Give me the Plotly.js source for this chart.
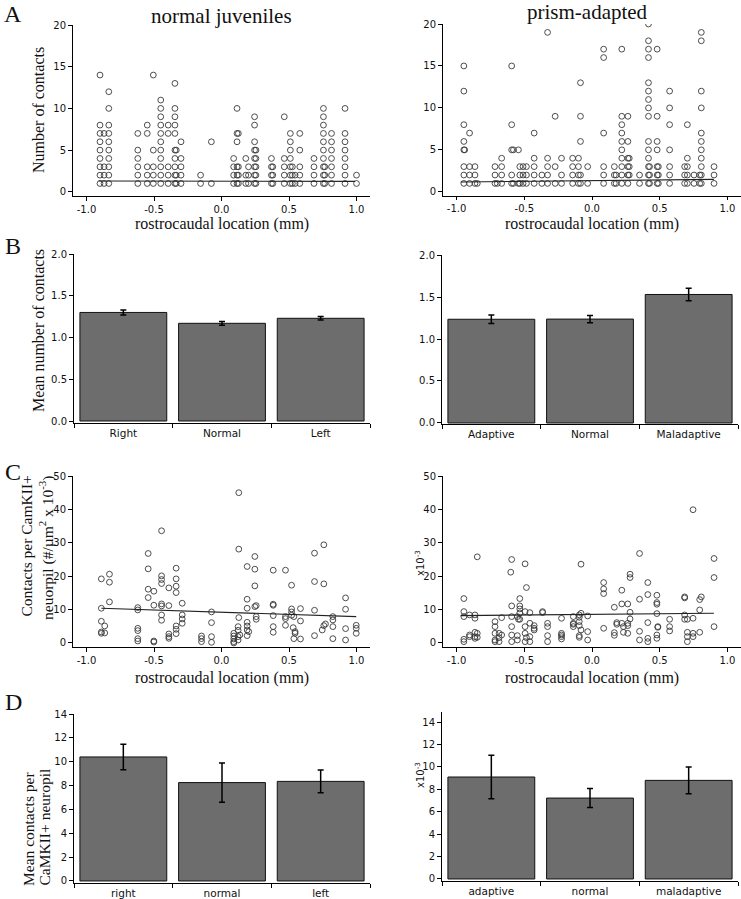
<!DOCTYPE html>
<html><head><meta charset="utf-8">
<script src="https://cdn.plot.ly/plotly-3.0.1.min.js"></script>
<style>html,body{margin:0;padding:0;background:#fff}#chart{width:741px;height:899px}</style>
</head><body><div id="chart"></div>
<script>
// ---------- DATA ----------
// Panel A (number of contacts vs rostrocaudal location): [x, [y values]]
const aLeftCols = [
 [-0.90,[14,8,7,6,5,4,3,2,1]],[-0.87,[7,3,2,1]],[-0.835,[12,10,8,7,6,5,4,3,2,1]],
 [-0.62,[7,5,4,3,2,1]],[-0.55,[8,7,3,2,1]],[-0.505,[14,5,3,2,1]],
 [-0.45,[11,10,9,8,7,6,5,4,3,2,1]],[-0.395,[8,7,3,2,1]],[-0.345,[13,10,9,8,7,5,4,3,2,1]],
 [-0.335,[5,2,1]],[-0.30,[6,4,3,2,1]],[-0.155,[2,1]],[-0.075,[6,1]],
 [0.09,[4,3,2,1]],[0.115,[10,7,6,3,2,1]],[0.125,[7,3,2,1]],[0.18,[4,2,1]],[0.20,[3,2,1]],
 [0.245,[9,8,6,5,4,3,2,1]],[0.255,[5,4,3,2,1]],[0.37,[4,3,2,1]],[0.38,[3,2,1]],
 [0.465,[9,4,3,2,1]],[0.51,[7,6,5,4,3,2,1]],[0.525,[3,2,1]],[0.545,[2,1]],
 [0.58,[7,5,3,2,1]],[0.685,[4,3,2,1]],[0.755,[10,9,8,7,6,5,4,3,2,1]],[0.765,[3,2,1]],
 [0.815,[7,6,5,4,3,2,1]],[0.915,[10,7,6,5,4,3,2,1]],[1.0,[2,1]]
];
const aLeftFitX = [-0.91, 0.99];
const aLeftFitY = [1.30, 1.25];

const aRightCols = [
 [-0.946,[15,12,8,6,5,3,2,1]],[-0.94,[5]],[-0.904,[7,3,2,1]],[-0.864,[3,2,1]],[-0.847,[1]],
 [-0.716,[3,2,1]],[-0.699,[1]],[-0.667,[4,3,2,1]],[-0.593,[15,8,5,2,1]],[-0.58,[5,1]],
 [-0.543,[5,1]],[-0.533,[3,2,1]],[-0.509,[3,2,1]],[-0.484,[3,2,1]],[-0.427,[7,4,3,2,1]],
 [-0.370,[2,1]],[-0.328,[19,4,3,2,1]],[-0.272,[9,3,1]],[-0.225,[4,2,1]],[-0.143,[4,3,2,1]],
 [-0.100,[4,3,2,1]],[-0.085,[13,9,6,2,1]],[-0.032,[3,1]],[0.086,[17,16,7,3,2,1]],
 [0.165,[3,2,1]],[0.178,[2,1]],[0.220,[17,9,8,7,6,5,4,3,2,1]],[0.265,[9,6,4,3,2,1]],
 [0.275,[4,3,2]],[0.351,[2,1]],[0.417,[20,18,17,16,13,12,11,10,9,6,5,4,3,2,1]],
 [0.425,[3,2,1]],[0.481,[17,9,6,5,3,2,1]],[0.490,[3,2,1]],[0.573,[12,10,8,5,3,2,1]],
 [0.684,[3,2,1]],[0.704,[8,4,3,2,1]],[0.753,[2,1]],[0.795,[2,1]],
 [0.807,[19,18,12,10,7,6,5,4,3,2,1]],[0.901,[3,2,1]]
];
const aRightFitX = [-0.97, 0.90];
const aRightFitY = [1.17, 1.48];

// Panel B (mean number of contacts)
const bLeftCats = ["Right","Normal","Left"];
const bLeftMean = [1.30, 1.17, 1.23];
const bLeftErr  = [0.03, 0.022, 0.02];
const bRightCats = ["Adaptive","Normal","Maladaptive"];
const bRightMean = [1.235, 1.237, 1.53];
const bRightErr  = [0.05, 0.044, 0.074];

// Panel C (contacts per CamKII+ neuropil vs location)
const cLeftCols = [
 [-0.89,[19.2,10.4,6.5,3.3,2.9]],[-0.865,[5.1,3.0]],[-0.83,[20.6,18.2,12.3]],
 [-0.62,[10.6,9.9,4.4,3.7,1.3,0.6]],[-0.543,[26.8,22.2,16.1,13.6]],[-0.501,[15.5,11.3,0.6,0.3]],
 [-0.444,[33.6,20.1,19.0,17.8,11.7,11.1,8.4,6.8]],[-0.39,[16.5,11.2,2.7,1.9,1.4]],
 [-0.336,[22.4,19.2,17.0,15.1,5.1,4.1,2.8]],[-0.291,[11.9,8.4,7.2,5.9]],
 [-0.148,[2.1,1.3,0.4]],[-0.074,[9.3,6.1,1.9,0.2]],[0.091,[2.9,2.1,1.2,0.4,0.0]],
 [0.123,[4.9,3.8,1.9,0.9]],[0.128,[45.0,28.1,7.6]],[0.136,[2.4]],
 [0.19,[22.9,13.1,10.4,6.2,5.1,3.9,2.2]],[0.202,[3.4]],[0.247,[25.9,22.1,17.1,10.9]],
 [0.257,[11.2,7.9,7.1]],[0.383,[21.8,11.6,11.3,8.2,4.9,3.2]],[0.474,[21.8,7.9,7.3,5.3]],
 [0.519,[17.3,10.2,9.3,8.3]],[0.536,[7.9,1.3]],[0.531,[4.6]],[0.545,[3.4,2.9]],
 [0.585,[10.3,6.6,1.2]],[0.689,[26.9,18.4,9.8,2.2]],[0.758,[29.4,17.7,5.2]],[0.77,[5.7]],
 [0.746,[3.9]],[0.825,[7.9,6.9,4.9,1.3]],[0.919,[13.5,10.1,4.3,0.9]],[0.998,[5.3,4.4,2.9]]
];
const cLeftFitX = [-0.89, 0.998];
const cLeftFitY = [10.4, 7.9];

const cRightCols = [
 [-0.946,[13.3,9.4,7.9,1.1,0.4]],[-0.904,[8.4,2.4,1.9]],[-0.864,[8.4,7.4,3.2,1.9,1.4]],
 [-0.847,[25.8,2.9,1.7]],[-0.716,[6.4,4.9,2.9,0.9,0.4]],[-0.686,[2.9,1.6,0.4]],[-0.667,[7.6,2.4]],
 [-0.593,[25.0,11.1,7.9,4.9,2.4,0.4]],[-0.60,[21.2]],[-0.551,[7.9,2.2,0.9]],[-0.543,[7.1]],
 [-0.533,[13.3,11.1,10.2,9.0,7.1]],[-0.494,[23.7,9.4,4.9,2.9,0.4]],[-0.484,[16.6,1.6]],
 [-0.459,[9.1,5.9,1.9,0.4]],[-0.427,[5.2,4.4,3.9]],[-0.365,[9.4,9.1]],[-0.328,[5.9,4.9,2.2,0.4]],
 [-0.225,[7.4,2.9,2.4,1.9,1.2]],[-0.138,[7.9,5.9,5.6,4.9]],[-0.094,[8.4,7.7,6.4,5.2,2.2,1.7]],
 [-0.081,[23.6,8.9,3.9]],[-0.032,[8.1,3.4,0.9]],[0.086,[18.1,16.2,14.8,4.4]],
 [0.165,[10.7,3.1,2.3]],[0.183,[6.1,5.6]],[0.22,[15.8,11.7,5.9]],[0.232,[4.9,3.2]],
 [0.264,[11.7,5.9,5.2,2.9]],[0.281,[20.6,19.6,9.2,7.2]],[0.351,[26.8,13.1,3.5,0.9]],
 [0.412,[18.1,14.5,6.1,1.4,0.4]],[0.479,[14.3,12.1,11.6,8.8,2.4,1.4]],[0.486,[4.9,4.7]],
 [0.573,[7.1,4.9,3.6]],[0.684,[13.8,13.5,8.4,7.1]],[0.704,[7.1,3.2,1.9,0.4]],
 [0.746,[39.9,7.4,2.9,1.9]],[0.795,[13.0,9.9,3.2]],[0.807,[13.8]],[0.901,[25.3,19.6,4.9]]
];
const cRightFitX = [-0.97, 0.90];
const cRightFitY = [8.2, 8.9];

// Panel D (mean contacts per CaMKII+ neuropil)
const dLeftCats = ["right","normal","left"];
const dLeftMean = [10.4, 8.25, 8.35];
const dLeftErr  = [1.07, 1.65, 0.96];
const dRightCats = ["adaptive","normal","maladaptive"];
const dRightMean = [9.1, 7.22, 8.8];
const dRightErr  = [1.95, 0.85, 1.2];

// ---------- BUILD ----------
function flat(cols){const x=[],y=[];cols.forEach(c=>c[1].forEach(v=>{x.push(c[0]);y.push(v);}));return {x,y};}
const W=741,H=899;
const xd=(a,b)=>[a/W,b/W];
const yd=(t,b)=>[1-b/H,1-t/H];

const mk={symbol:'circle-open',size:5.8,color:'#3a3a3a',line:{width:0.9,color:'#3a3a3a'}};
const traces=[];
function scat(cols,fx,fy,n){
  const d=flat(cols);
  traces.push({type:'scatter',mode:'markers',x:d.x,y:d.y,xaxis:'x'+n,yaxis:'y'+n,marker:mk,hoverinfo:'skip'});
  traces.push({type:'scatter',mode:'lines',x:fx,y:fy,xaxis:'x'+n,yaxis:'y'+n,line:{color:'#222',width:1.2},hoverinfo:'skip'});
}
function bars(cats,m,e,n){
  traces.push({type:'bar',x:cats,y:m,xaxis:'x'+n,yaxis:'y'+n,width:0.88,
    marker:{color:'#6d6d6d',line:{color:'#111',width:1}},
    error_y:{type:'data',array:e,visible:true,color:'#000',thickness:1.5,width:3},hoverinfo:'skip'});
}
scat(aLeftCols,aLeftFitX,aLeftFitY,'');
scat(aRightCols,aRightFitX,aRightFitY,'2');
bars(bLeftCats,bLeftMean,bLeftErr,'3');
bars(bRightCats,bRightMean,bRightErr,'4');
scat(cLeftCols,cLeftFitX,cLeftFitY,'5');
scat(cRightCols,cRightFitX,cRightFitY,'6');
bars(dLeftCats,dLeftMean,dLeftErr,'7');
bars(dRightCats,dRightMean,dRightErr,'8');
traces[0].xaxis='x';traces[0].yaxis='y';traces[1].xaxis='x';traces[1].yaxis='y';

const tf={family:'DejaVu Sans, sans-serif',size:10,color:'#111'};
function ax(extra){return Object.assign({showline:true,linecolor:'#000',linewidth:1,ticks:'outside',ticklen:4,tickcolor:'#000',
  tickwidth:1,showgrid:false,zeroline:false,tickfont:tf,fixedrange:true},extra);}
const xs={range:[-1.1,1.1],tickvals:[-1,-0.5,0,0.5,1],ticktext:['-1.0','-0.5','0.0','0.5','1.0']};
const catx={type:'category',range:[-0.5,2.5],tickson:'boundaries',tickfont:{family:'DejaVu Sans, sans-serif',size:10.5,color:'#111'}};

const layout={width:W,height:H,margin:{l:0,r:0,t:0,b:0},showlegend:false,paper_bgcolor:'#fff',plot_bgcolor:'#fff',
 xaxis: ax(Object.assign({domain:xd(73,370),anchor:'y'},xs)),
 yaxis: ax({domain:yd(25,196),anchor:'x',range:[-0.5,20],dtick:5}),
 xaxis2:ax(Object.assign({domain:xd(443,741),anchor:'y2',ticklen:3},xs)),
 yaxis2:ax({domain:yd(24,196),anchor:'x2',range:[-0.5,20],dtick:5}),
 xaxis3:ax(Object.assign({domain:xd(74,370),anchor:'y3'},catx)),
 yaxis3:ax({domain:yd(254,423),anchor:'x3',range:[-0.024,2.0],dtick:0.5,tickformat:'.1f'}),
 xaxis4:ax(Object.assign({domain:xd(442,738),anchor:'y4'},catx)),
 yaxis4:ax({domain:yd(255,424),anchor:'x4',range:[-0.012,2.0],dtick:0.5,tickformat:'.1f'}),
 xaxis5:ax(Object.assign({domain:xd(73,370),anchor:'y5'},xs)),
 yaxis5:ax({domain:yd(476,647),anchor:'x5',range:[-1.2,50],dtick:10}),
 xaxis6:ax(Object.assign({domain:xd(443,741),anchor:'y6'},xs)),
 yaxis6:ax({domain:yd(476,647),anchor:'x6',range:[-1.2,50],dtick:10}),
 xaxis7:ax(Object.assign({domain:xd(74,370),anchor:'y7'},catx)),
 yaxis7:ax({domain:yd(714,883),anchor:'x7',range:[-0.17,14],dtick:2}),
 xaxis8:ax(Object.assign({domain:xd(442,738),anchor:'y8'},catx)),
 yaxis8:ax({domain:yd(712,881),anchor:'x8',range:[-0.18,14.9],dtick:2}),
 annotations:[]
};
const serif='Liberation Serif, Times New Roman, serif';
function ann(text,x,y,size,angle,extra){layout.annotations.push(Object.assign({text:text,x:x/W,y:1-y/H,xref:'paper',yref:'paper',
  showarrow:false,textangle:angle||0,font:{family:serif,size:size,color:'#111'},xanchor:'center',yanchor:'middle'},extra||{}));}
ann('A',13,14,24);ann('B',13,246,24);ann('C',13,472,24);ann('D',13,702,24);
ann('normal juveniles',221,16,21);
ann('prism-adapted',587,12,21);
ann('Number of contacts',38,110,16,-90);
ann('Mean number of contacts',38,331,16,-90);
ann('Contacts per CamKII+',26,474,15.5,-90,{yanchor:'top'});
ann('neuorpil (#/µm<sup>2</sup> x 10<sup>-3</sup>)',46,474,15.5,-90,{yanchor:'top'});
ann('Mean contacts per',28,888,15.5,-90,{yanchor:'bottom'});
ann('CaMKII+ neuropil',44,888,15.5,-90,{yanchor:'bottom'});
ann('rostrocaudal location (mm)',222,224,16);
ann('rostrocaudal location (mm)',592,224,16);
ann('rostrocaudal location (mm)',222,678,16);
ann('rostrocaudal location (mm)',592,678,16);
layout.annotations.push({text:'x10<sup>-3</sup>',x:420/W,y:1-563/H,xref:'paper',yref:'paper',showarrow:false,textangle:-90,
  font:{family:'DejaVu Sans, sans-serif',size:10,color:'#111'}});
layout.annotations.push({text:'x10<sup>-3</sup>',x:420/W,y:1-790/H,xref:'paper',yref:'paper',showarrow:false,textangle:-90,
  font:{family:'DejaVu Sans, sans-serif',size:10,color:'#111'}});

Plotly.newPlot('chart',traces,layout,{displayModeBar:false,staticPlot:true});
</script></body></html>
